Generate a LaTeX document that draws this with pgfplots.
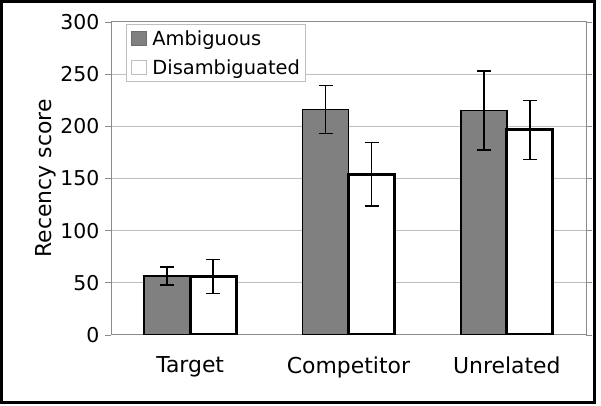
\documentclass[border=0pt]{standalone}
\usepackage{fontspec}
\setmainfont{DejaVu Sans}
\usepackage{pgfplots}
\pgfplotsset{compat=1.18}
\definecolor{ambfill}{RGB}{128,128,128}
\definecolor{gridgray}{RGB}{190,190,190}
\definecolor{axgray}{RGB}{140,140,140}

\begin{document}
\begin{tikzpicture}
  \useasboundingbox (0bp,0bp) rectangle (601bp,406bp);
  \draw[black, line width=3bp] (1.5bp,3.5bp) rectangle (594bp,404.5bp);
  \begin{axis}[
    at={(111bp,71bp)}, anchor=south west,
    scale only axis,
    width=475bp, height=313bp,
    xmin=0.5, xmax=3.5,
    ymin=0, ymax=300,
    ytick={0,50,...,300},
    xtick={1,2,3},
    xticklabels={Target,Competitor,Unrelated},
    extra x ticks={0.5,1.5,2.5,3.5},
    extra x tick labels={},
    extra x tick style={grid=none, major tick length=6bp, tick style={axgray, line width=0.8bp}},
    x tick style={draw=none},
    y tick style={axgray, line width=0.8bp},
    tick align=outside,
    major tick length=6bp,
    ymajorgrids,
    grid style={gridgray, line width=1bp},
    axis line style={axgray, line width=1bp},
    yticklabel style={font=\fontsize{20.5}{24}\selectfont, xshift=-2bp},
    xticklabel style={font=\fontsize{22}{26}\selectfont, yshift=-12bp},
    /pgf/number format/assume math mode=true,
    ylabel={Recency score},
    ylabel style={font=\fontsize{22}{26}\selectfont, yshift=-2bp},
    ybar, bar width=46bp,
    legend cell align=left,
    legend style={at={(0.0316,0.9936)}, anchor=north west,
      draw=gridgray, line width=1bp,
      font=\fontsize{19.5}{23}\selectfont,
      row sep=9bp, inner xsep=4bp, inner ysep=4bp},
  ]
  \addplot[forget plot, bar shift=-23bp, fill=ambfill, draw=black, line width=1.4bp,
    error bars/.cd, y dir=both, y explicit,
    error bar style={black, line width=1.7bp},
    error mark options={black, line width=1.7bp, mark size=7bp, rotate=90}]
    coordinates {(1,56.5) +- (0,8.5) (2,216) +- (0,23) (3,215) +- (0,38)};
  \addplot[forget plot, bar shift=23bp, fill=white, draw=black, line width=3bp,
    error bars/.cd, y dir=both, y explicit,
    error bar style={black, line width=1.7bp},
    error mark options={black, line width=1.7bp, mark size=7bp, rotate=90}]
    coordinates {(1,56) +- (0,16.3) (2,154) +- (0,30.4) (3,196.5) +- (0,28.4)};
  \addlegendimage{legend image code/.code={\draw[fill=ambfill, draw=ambfill!85!black, line width=0.6bp] (0bp,-7bp) rectangle (15bp,7bp); \path (19bp,0bp);}}
  \addlegendentry{Ambiguous}
  \addlegendimage{legend image code/.code={\draw[fill=white, draw=gridgray, line width=0.8bp] (0bp,-7bp) rectangle (15bp,7bp); \path (19bp,0bp);}}
  \addlegendentry{Disambiguated}
  \end{axis}
\end{tikzpicture}
\end{document}
